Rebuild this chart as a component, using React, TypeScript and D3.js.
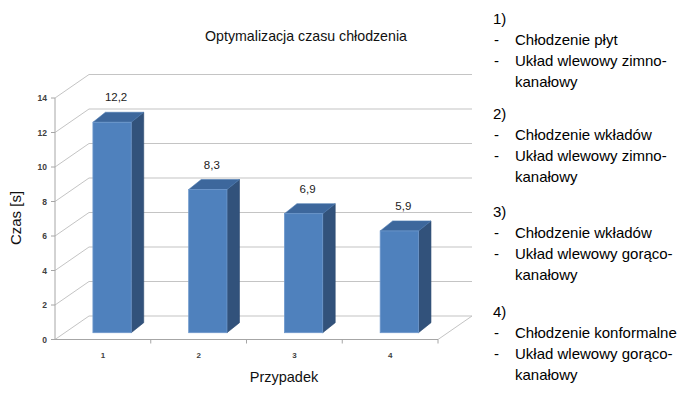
import React from "react";
import * as d3 from "d3";

const categories = ["1", "2", "3", "4"];
const values = [12.2, 8.3, 6.9, 5.9];
const valueLabels = ["12,2", "8,3", "6,9", "5,9"];
const yTicks = [0, 2, 4, 6, 8, 10, 12, 14];
const title = "Optymalizacja czasu chłodzenia";
const xTitle = "Przypadek";
const yTitle = "Czas [s]";
const notes = [
  ["1)", "Chłodzenie płyt", "Układ wlewowy zimno-", "kanałowy"],
  ["2)", "Chłodzenie wkładów", "Układ wlewowy zimno-", "kanałowy"],
  ["3)", "Chłodzenie wkładów", "Układ wlewowy gorąco-", "kanałowy"],
  ["4)", "Chłodzenie konformalne", "Układ wlewowy gorąco-", "kanałowy"],
];
const bulletLines = [false, true, true, false];

const W = 686;
const H = 395;
const FONT = "'Liberation Sans', Arial, sans-serif";

export default function App() {
  const x0 = 55;
  const x1 = 438;
  const depthX = 34;
  const depthY = 23.5;
  const y = d3.scaleLinear().domain([0, 14]).range([339.5, 98]);
  const x = d3
    .scaleBand<string>()
    .domain(categories)
    .range([x0, x1])
    .paddingInner(0.6)
    .paddingOuter(0.3);
  const step = x.step();
  const bw = x.bandwidth();
  const barShiftX = 9.2;
  const barShiftY = 6.8;
  const sideDx = 12.5;
  const sideDy = 10;

  const grid = "#c4c4c4";
  const axis = "#a6a6a6";

  const blockStarts = [18, 113, 211, 311];
  const lineGap = 21;

  return (
    <svg
      width={W}
      height={H}
      style={{ position: "absolute", left: 0, top: 0, background: "#fff" }}
      fontFamily={FONT}
    >
      {yTicks.map((t) => (
        <line
          key={"bg" + t}
          x1={x0 + depthX}
          x2={x1 + depthX}
          y1={y(t) - depthY}
          y2={y(t) - depthY}
          stroke={grid}
          strokeWidth={1.2}
        />
      ))}
      {yTicks.map((t) => (
        <line
          key={"sd" + t}
          x1={x0}
          x2={x0 + depthX}
          y1={y(t)}
          y2={y(t) - depthY}
          stroke={grid}
          strokeWidth={1}
        />
      ))}
      <line x1={x1} y1={y(0)} x2={x1 + depthX} y2={y(0) - depthY} stroke={grid} strokeWidth={1} />
      <line x1={x0} y1={y(14)} x2={x0} y2={y(0)} stroke={axis} strokeWidth={1} />
      <line x1={x0} y1={y(0)} x2={x1} y2={y(0)} stroke={axis} strokeWidth={1} />
      {yTicks.map((t) => (
        <g key={"yt" + t}>
          <line x1={x0 - 4} x2={x0} y1={y(t)} y2={y(t)} stroke={axis} />
          <text
            x={x0 - 8}
            y={y(t)}
            textAnchor="end"
            dominantBaseline="central"
            fontSize={8.5}
            fontWeight="bold"
            fill="#404040"
          >
            {t}
          </text>
        </g>
      ))}
      {categories.map((c, i) => (
        <line
          key={"xt" + c}
          x1={x0 + step * (i + 1)}
          x2={x0 + step * (i + 1)}
          y1={y(0)}
          y2={y(0) + 4}
          stroke={axis}
        />
      ))}
      {categories.map((c) => (
        <text
          key={"xl" + c}
          x={(x(c) as number) + bw / 2}
          y={355}
          textAnchor="middle"
          dominantBaseline="central"
          fontSize={8}
          fontWeight="bold"
          fill="#404040"
        >
          {c}
        </text>
      ))}
      {categories.map((c, i) => {
        const bx = (x(c) as number) + barShiftX;
        const top = y(values[i]) - barShiftY;
        const bottom = y(0) - barShiftY;
        const side = `${bx + bw},${top} ${bx + bw + sideDx},${top - sideDy} ${bx + bw + sideDx},${bottom - sideDy} ${bx + bw},${bottom}`;
        const topFace = `${bx},${top} ${bx + sideDx},${top - sideDy} ${bx + bw + sideDx},${top - sideDy} ${bx + bw},${top}`;
        return (
          <g key={"b" + c}>
            <polygon points={side} fill="#32527b" stroke="#2c4a70" strokeWidth={0.6} />
            <polygon points={topFace} fill="#3d679c" stroke="#4a78b0" strokeWidth={0.6} />
            <rect
              x={bx}
              y={top}
              width={bw}
              height={bottom - top}
              fill="#4f81bd"
              stroke="#6e98cc"
              strokeWidth={0.8}
            />
            <text
              x={bx + bw / 2 + 4}
              y={top - 25}
              textAnchor="middle"
              dominantBaseline="central"
              fontSize={11.5}
              fill="#222"
            >
              {valueLabels[i]}
            </text>
          </g>
        );
      })}
      <text x={306} y={36} textAnchor="middle" dominantBaseline="central" fontSize={14.2} fill="#111">
        {title}
      </text>
      <text x={284} y={377} textAnchor="middle" dominantBaseline="central" fontSize={14.5} fill="#111">
        {xTitle}
      </text>
      <text
        transform={`translate(15,218) rotate(-90)`}
        textAnchor="middle"
        dominantBaseline="central"
        fontSize={15}
        fill="#111"
      >
        {yTitle}
      </text>
      {notes.map((block, bi) =>
        block.map((line, li) => (
          <g key={`n${bi}-${li}`}>
            {bulletLines[li] && (
              <text x={494} y={blockStarts[bi] + li * lineGap} dominantBaseline="central" fontSize={15} fill="#000">
                -
              </text>
            )}
            <text
              x={li === 0 ? 493 : 515}
              y={blockStarts[bi] + li * lineGap}
              dominantBaseline="central"
              fontSize={15}
              fill="#000"
            >
              {line}
            </text>
          </g>
        ))
      )}
    </svg>
  );
}
